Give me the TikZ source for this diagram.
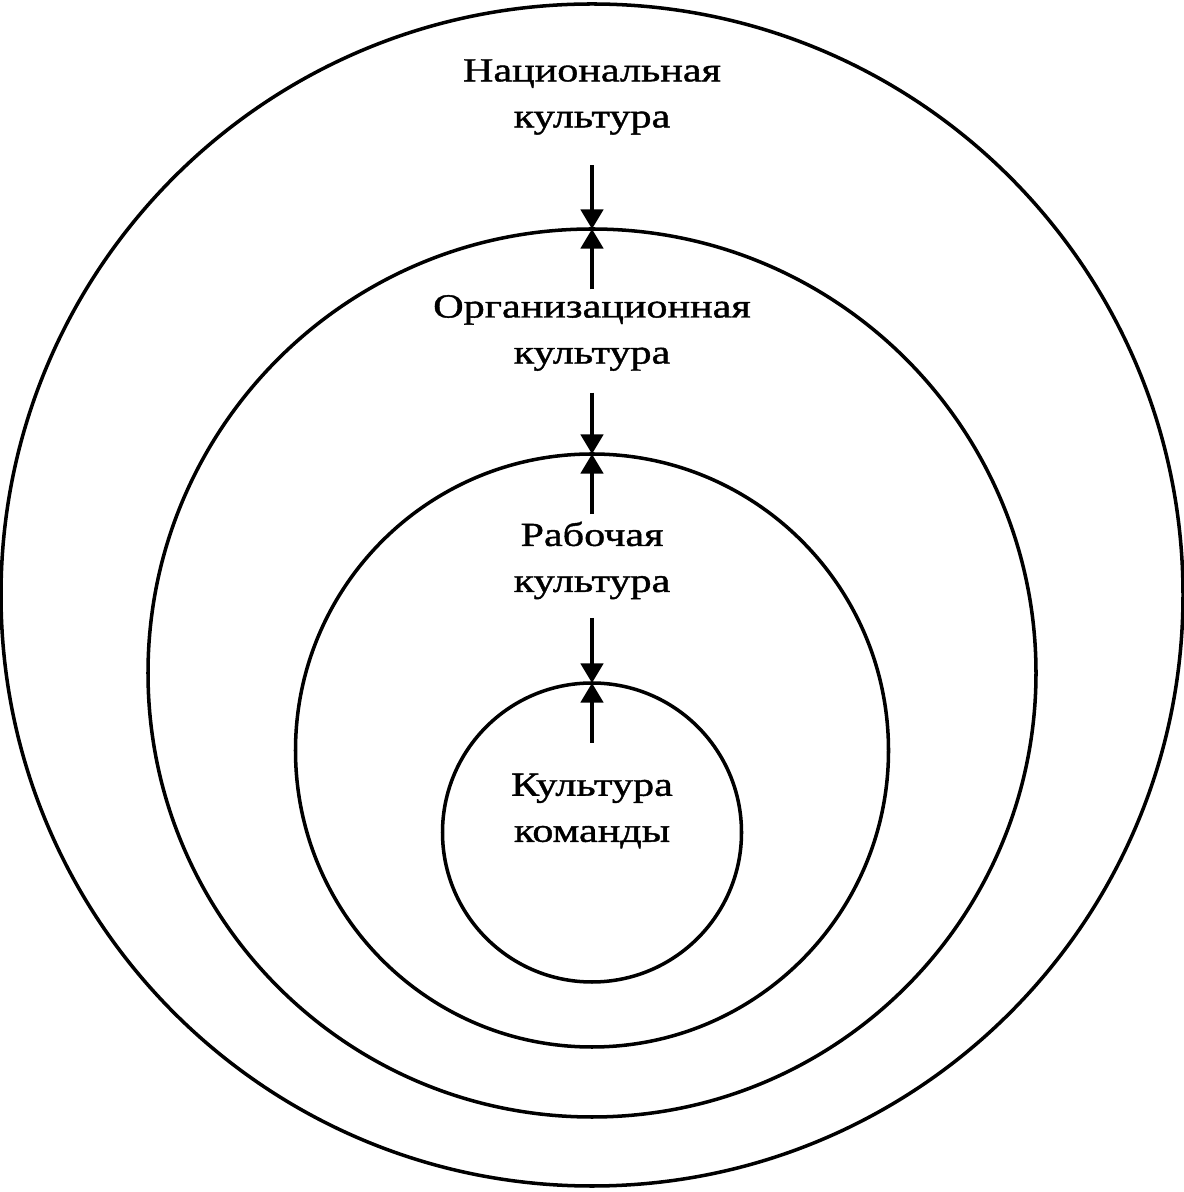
\documentclass[tikz,border=0pt]{standalone}
\usepackage{fontspec}
\setmainfont{Liberation Serif}[FakeStretch=1.25,FakeBold=1.2]
\usetikzlibrary{arrows.meta}

\tikzset{
  ring/.style={draw, circle, line width=1pt, inner sep=0pt, outer sep=0pt},
  lbl/.style={align=center, inner sep=0pt, font=\fontsize{9.6pt}{13.1pt}\selectfont},
  arr/.style={line width=1pt, -{Triangle[length=5.6pt,width=6.4pt]}}
}

\begin{document}
\begin{tikzpicture}
  \useasboundingbox (0,0) rectangle (11.84,11.92);

  % Nested circles
  \node[ring, minimum size=11.82cm] (natc) at (5.92,5.97) {};
  \node[ring, minimum size=8.88cm] (orgc) at (5.92,5.19) {};
  \node[ring, minimum size=5.93cm] (workc) at (5.92,4.415) {};
  \node[ring, minimum size=2.99cm] (teamc) at (5.92,3.595) {};

  % Labels
  \node[lbl] (nat) at (5.92,10.95) {Национальная\\культура};
  \node[lbl] (org) at (5.92,8.59) {Организационная\\культура};
  \node[lbl] (work) at (5.92,6.315) {Рабочая\\культура};
  \node[lbl] (team) at (5.92,3.81) {Культура\\команды};

  % Arrows meeting on each boundary
  \foreach \a/\c/\b/\s/\t in {nat/orgc/org/0.30/0.05, org/workc/work/0.21/0.07, work/teamc/team/0.18/0.30} {
    \draw[arr, shorten <=\s cm] (\a.south) -- (\c.north); % from outside
    \draw[arr, shorten <=\t cm] (\b.north) -- (\c.north); % from inside
  }
\end{tikzpicture}
\end{document}
